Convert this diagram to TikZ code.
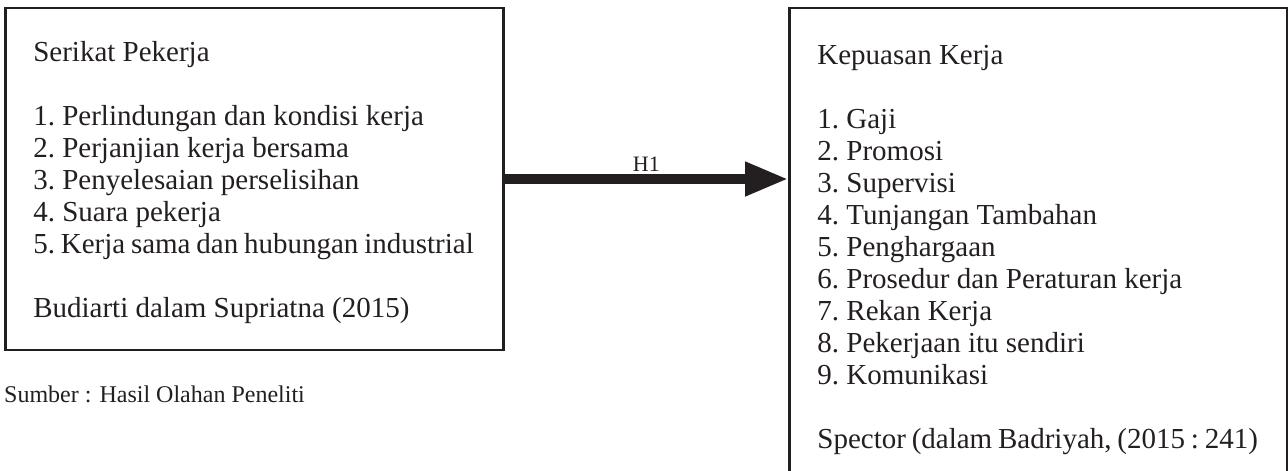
\documentclass[tikz,border=0pt]{standalone}
\usepackage{fontspec}
\setmainfont{Liberation Serif}
\usepackage{tikz}
\usetikzlibrary{arrows.meta,positioning}
\definecolor{ink}{RGB}{35,31,32}

\begin{document}
\begin{tikzpicture}[
    x=1pt, y=-1pt,
    varbox/.style={rectangle, draw=ink, line width=2.5pt, minimum width=498pt, text width=442pt, inner xsep=28pt, inner ysep=0pt, align=flush left, text=ink, font=\fontsize{29}{32}\selectfont\frenchspacing},
    arrow/.style={-{Triangle[length=43pt, width=32pt]}, line width=10pt, draw=ink}
]
    \useasboundingbox (0,0) rectangle (1288,471);

    \node[varbox, minimum height=342pt] (serikat) at (254.3,179) {\rule{0pt}{28pt}Serikat Pekerja\\[32pt]
        1. Perlindungan dan kondisi kerja\\
        2. Perjanjian kerja bersama\\
        3. Penyelesaian perselisihan\\
        4. Suara pekerja\\
        \mbox{\spaceskip=.2em 5. Kerja sama dan hubungan industrial}\\[32pt]
        Budiarti dalam Supriatna (2015)\rule[-8pt]{0pt}{0pt}};
    \node[varbox, minimum height=478pt] (kepuasan) at (1038.4,247) {\rule{0pt}{26pt}Kepuasan Kerja\\[32pt]
        1. Gaji\\
        2. Promosi\\
        3. Supervisi\\
        4. Tunjangan Tambahan\\
        5. Penghargaan\\
        6. Prosedur dan Peraturan kerja\\
        7. Rekan Kerja\\
        8. Pekerjaan itu sendiri\\
        9. Komunikasi\\[32pt]
        \mbox{\spaceskip=.2em Spector (dalam Badriyah, (2015 : 241)}\rule[-8pt]{0pt}{0pt}};
    \node[anchor=base west, inner sep=0pt, text=ink, font=\fontsize{24}{28}\selectfont] (sumber) at (4,402) {Sumber : Hasil Olahan Peneliti};

    \draw[arrow] (serikat.east) -- (serikat.east -| kepuasan.west)
        node[midway, above, inner sep=3pt, text=ink, font=\fontsize{22}{26}\selectfont] (hsatu) {H1};
\end{tikzpicture}
\end{document}
